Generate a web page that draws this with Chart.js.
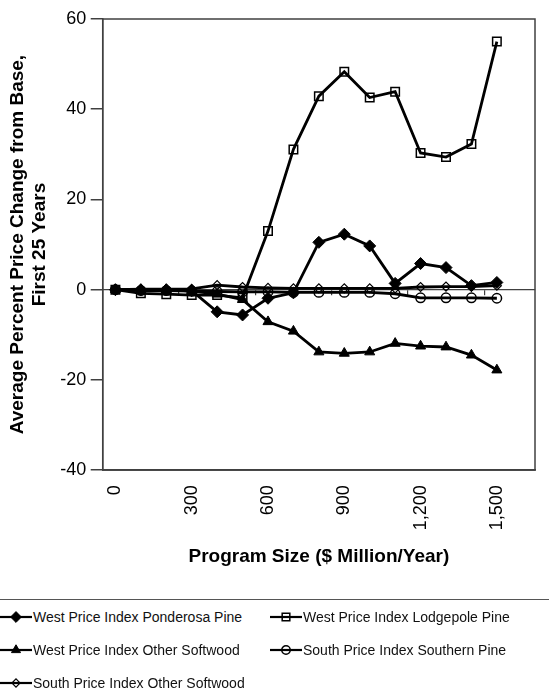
<!DOCTYPE html>
<html>
<head>
<meta charset="utf-8">
<script src="https://cdn.jsdelivr.net/npm/chart.js@4/dist/chart.umd.min.js"></script>
<style>
    body { margin: 0; background: #fff; font-family: 'Liberation Sans', Arial, sans-serif; }
    #wrap { position: relative; width: 549px; height: 572px; }
    #legend {
        margin-top: 27px;
        width: 549px;
        border-top: 1.5px solid #555;
        display: grid;
        grid-template-columns: 270px auto;
        grid-auto-rows: 33px;
        align-items: center;
        font-size: 14px;
        color: #111;
    }
    .item { display: flex; align-items: center; white-space: nowrap; }
    .item canvas { margin-right: 1px; }
</style>
</head>
<body>
<div id="wrap"><canvas id="myChart"></canvas></div>
<div id="legend"></div>
<script>
const programSizes = [0, 100, 200, 300, 400, 500, 600, 700, 800, 900, 1000, 1100, 1200, 1300, 1400, 1500];
const xTickValues = [0, 300, 600, 900, 1200, 1500];
const yTickValues = [-40, -20, 0, 20, 40, 60];

const seriesNames = [
    'West Price Index Ponderosa Pine',
    'West Price Index Lodgepole Pine',
    'West Price Index Other Softwood',
    'South Price Index Southern Pine',
    'South Price Index Other Softwood'
];
const westPonderosa = [0, 0, 0, -0.2, -4.9, -5.6, -1.9, -0.7, 10.5, 12.3, 9.7, 1.4, 5.8, 4.9, 0.9, 1.6];
const westLodgepole = [0, -0.8, -1.0, -1.2, -1.2, -1.8, 13.0, 31.1, 42.9, 48.3, 42.6, 43.9, 30.3, 29.4, 32.3, 55.0];
const westOther = [0, 0, 0, -0.3, -1.0, -2.2, -7.1, -9.2, -13.8, -14.1, -13.8, -11.9, -12.5, -12.7, -14.5, -17.8];
const southPine = [0, -0.2, -0.2, -0.3, -0.4, -0.5, -0.5, -0.6, -0.6, -0.6, -0.6, -0.9, -1.8, -1.8, -1.8, -1.9];
const southOther = [0, 0.1, 0.1, 0.2, 1.0, 0.6, 0.4, 0.3, 0.3, 0.3, 0.3, 0.3, 0.6, 0.7, 0.7, 0.9];

const seriesValues = [westPonderosa, westLodgepole, westOther, southPine, southOther];
const markerStyles = [
    { pointStyle: 'rectRot', pointRadius: 6, pointBackgroundColor: '#000', pointBorderWidth: 1 },
    { pointStyle: 'rect', pointRadius: 6, pointBackgroundColor: 'transparent', pointBorderWidth: 1.5 },
    { pointStyle: 'triangle', pointRadius: 5.8, pointBackgroundColor: '#000', pointBorderWidth: 1 },
    { pointStyle: 'circle', pointRadius: 4.7, pointBackgroundColor: 'transparent', pointBorderWidth: 1.5 },
    { pointStyle: 'rectRot', pointRadius: 4.5, pointBackgroundColor: 'transparent', pointBorderWidth: 1.2 }
];

const axisColor = '#404040';
Chart.defaults.font.family = "'Liberation Sans', Arial, sans-serif";
Chart.defaults.color = '#000';

const datasets = seriesValues.map((values, i) => ({
    label: seriesNames[i],
    data: values.map((v, j) => ({ x: programSizes[j], y: v })),
    borderColor: '#000',
    borderWidth: 2.8,
    pointBorderColor: '#000',
    pointHoverRadius: markerStyles[i].pointRadius,
    order: seriesValues.length - i,
    ...markerStyles[i]
}));

// frame around the plot area
const plotFrame = {
    id: 'plotFrame',
    beforeDatasetsDraw(chart) {
        const { ctx, chartArea } = chart;
        ctx.save();
        ctx.strokeStyle = axisColor;
        ctx.lineWidth = 1.5;
        ctx.strokeRect(chartArea.left, chartArea.top, chartArea.right - chartArea.left, chartArea.bottom - chartArea.top);
        ctx.restore();
    }
};

const myChart = new Chart(document.getElementById('myChart'), {
    type: 'line',
    data: { datasets: datasets },
    options: {
        responsive: true,
        maintainAspectRatio: false,
        animation: false,
        layout: { padding: { top: 19, right: 14, left: 0, bottom: 0 } },
        plugins: {
            legend: { display: false },
            tooltip: { enabled: false }
        },
        scales: {
            x: {
                type: 'linear',
                position: 'bottom',
                min: -50,
                max: 1650,
                afterBuildTicks: axis => { axis.ticks = xTickValues.map(v => ({ value: v })); },
                ticks: {
                    autoSkip: false,
                    minRotation: 90,
                    maxRotation: 90,
                    padding: 15,
                    font: { size: 18 },
                    callback: v => v.toLocaleString('en-US')
                },
                grid: { display: false, drawTicks: false },
                border: { display: true, color: axisColor, width: 1.5 },
                title: {
                    display: true,
                    text: 'Program Size ($ Million/Year)',
                    font: { size: 19, weight: 'bold' },
                    padding: { top: 0, bottom: 4 }
                }
            },
            // axis line crossing at zero with its tick marks
            xZero: {
                type: 'linear',
                position: { y: 0 },
                min: -50,
                max: 1650,
                afterBuildTicks: axis => { axis.ticks = xTickValues.slice(1).map(v => ({ value: v - 50 })); },
                ticks: { display: false },
                grid: { drawOnChartArea: false, drawTicks: true, tickLength: 5, color: axisColor, lineWidth: 1.2 },
                border: { display: true, color: axisColor, width: 1.2 }
            },
            y: {
                min: -40,
                max: 60,
                afterBuildTicks: axis => { axis.ticks = yTickValues.map(v => ({ value: v })); },
                ticks: { padding: 4.5, font: { size: 18 } },
                grid: { drawOnChartArea: false, drawTicks: true, tickLength: 12, color: axisColor, lineWidth: 1.5 },
                border: { display: true, color: axisColor, width: 1.5 },
                title: {
                    display: true,
                    text: ['Average Percent Price Change from Base,', 'First 25 Years'],
                    font: { size: 19, weight: 'bold', lineHeight: 1.15 },
                    padding: { top: 7, bottom: 5 }
                }
            }
        }
    },
    plugins: [plotFrame]
});

// html legend: line with marker, then label, in two columns
function markerCanvas(ds) {
    const c = document.createElement('canvas');
    c.width = 32;
    c.height = 16;
    const g = c.getContext('2d');
    g.strokeStyle = ds.borderColor;
    g.lineWidth = 2.2;
    g.beginPath();
    g.moveTo(0, 8);
    g.lineTo(32, 8);
    g.stroke();
    g.fillStyle = ds.pointBackgroundColor;
    g.lineWidth = ds.pointBorderWidth;
    Chart.helpers.drawPoint(g, {
        pointStyle: ds.pointStyle,
        radius: ds.pointRadius * 0.9,
        borderWidth: ds.pointBorderWidth,
        rotation: 0
    }, 16, 8);
    return c;
}

const legendEl = document.getElementById('legend');
myChart.data.datasets.forEach(ds => {
    const item = document.createElement('div');
    item.className = 'item';
    item.appendChild(markerCanvas(ds));
    const span = document.createElement('span');
    span.textContent = ds.label;
    item.appendChild(span);
    legendEl.appendChild(item);
});
</script>
</body>
</html>
